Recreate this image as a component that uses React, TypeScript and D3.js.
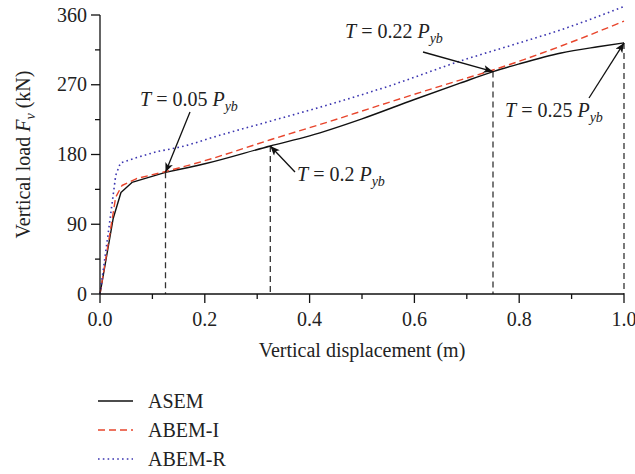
import React from "react";
import * as d3 from "d3";

const asem: [number, number][] = [
  [0, 0], [0.025, 97], [0.04, 131], [0.061, 144], [0.125, 157], [0.2, 168], [0.325, 191],
  [0.4, 204], [0.5, 226], [0.6, 251], [0.687, 272], [0.75, 287], [0.8, 297], [0.88, 311], [0.95, 319], [1.0, 324],
];
const abemI: [number, number][] = [
  [0, 0], [0.015, 62], [0.03, 125], [0.042, 140], [0.07, 149], [0.125, 158], [0.2, 172],
  [0.325, 199], [0.44, 223], [0.55, 247], [0.687, 276], [0.75, 289], [0.88, 320], [1.0, 352],
];
const abemR: [number, number][] = [
  [0, 0], [0.015, 75], [0.03, 153], [0.039, 169], [0.07, 176], [0.11, 184], [0.172, 193], [0.2, 199],
  [0.325, 223], [0.44, 245], [0.55, 268], [0.694, 302], [0.8, 324], [0.88, 341], [1.0, 371],
];
const markers: { x: number; y: number; label: string }[] = [
  { x: 0.125, y: 157, label: "0.05" },
  { x: 0.325, y: 191, label: "0.2" },
  { x: 0.75, y: 287, label: "0.22" },
  { x: 1.0, y: 324, label: "0.25" },
];
const xTicks = [0, 0.2, 0.4, 0.6, 0.8, 1.0];
const xMinor = [0.1, 0.3, 0.5, 0.7, 0.9];
const yTicks = [0, 90, 180, 270, 360];
const yMinor = [45, 135, 225, 315];
const seriesNames = ["ASEM", "ABEM-I", "ABEM-R"];
const kneeEnd = 0.11; // linear segments up to here, smooth afterwards

// label placement (text start, baseline) and arrow tail, per marker
const labelPos = [
  { tx: 140, ty: 106, ax: 190, ay: 112 },
  { tx: 297, ty: 181, ax: 295, ay: 172 },
  { tx: 345, ty: 38, ax: 423, ay: 52 },
  { tx: 505, ty: 117, ax: 589, ay: 98 },
];

export default function App() {
  const x = d3.scaleLinear().domain([0, 1]).range([100, 624]);
  const y = d3.scaleLinear().domain([0, 360]).range([294, 15]);
  const lin = d3.line<[number, number]>().x((d) => x(d[0])).y((d) => y(d[1]));
  const smooth = d3.line<[number, number]>().x((d) => x(d[0])).y((d) => y(d[1])).curve(d3.curveMonotoneX);
  const pathOf = (d: [number, number][]) => {
    const idx = d.findIndex((p) => p[0] >= kneeEnd);
    const a = lin(d.slice(0, idx + 1)) || "";
    const b = (smooth(d.slice(idx)) || "").replace(/^M/, "L");
    return a + b;
  };
  const font = "'Liberation Serif', 'Times New Roman', serif";
  const styles = [
    { stroke: "#111", dash: "none", w: 1.4 },
    { stroke: "#e8452c", dash: "7,4", w: 1.4 },
    { stroke: "#3b35b0", dash: "1.6,3.2", w: 1.6 },
  ];
  const data = [asem, abemI, abemR];
  const legY = 401;
  return (
    <svg width={635} height={474} style={{ position: "absolute", left: 0, top: 0 }} fontFamily={font}>
      <defs>
        <marker id="ah" viewBox="0 0 12 10" refX="12" refY="5" markerWidth="12" markerHeight="8" markerUnits="userSpaceOnUse" orient="auto">
          <path d="M0,0 L12,5 L0,10 L3,5 z" fill="#111" />
        </marker>
      </defs>
      <rect width={635} height={474} fill="#fff" />
      {markers.map((m, i) => (
        <line key={"v" + i} x1={x(m.x)} x2={x(m.x)} y1={y(m.y)} y2={y(0)} stroke="#333" strokeWidth={1.3} strokeDasharray="6,4" />
      ))}
      {data.map((d, i) => (
        <path key={"s" + i} d={pathOf(d)} fill="none" stroke={styles[i].stroke} strokeWidth={styles[i].w} strokeDasharray={styles[i].dash} strokeLinejoin="round" />
      ))}
      {/* axes */}
      <line x1={x(0)} x2={x(0)} y1={y(0)} y2={y(360)} stroke="#111" strokeWidth={1.3} />
      <line x1={x(0)} x2={x(1)} y1={y(0)} y2={y(0)} stroke="#111" strokeWidth={1.3} />
      {yTicks.map((t) => (
        <g key={"yt" + t}>
          <line x1={x(0) - 9} x2={x(0)} y1={y(t)} y2={y(t)} stroke="#111" strokeWidth={1.3} />
          <text x={x(0) - 13} y={y(t) + 6.5} fontSize={20} textAnchor="end" fill="#222">{t}</text>
        </g>
      ))}
      {yMinor.map((t) => (
        <line key={"ym" + t} x1={x(0) - 5} x2={x(0)} y1={y(t)} y2={y(t)} stroke="#111" strokeWidth={1.3} />
      ))}
      {xTicks.map((t) => (
        <g key={"xt" + t}>
          <line x1={x(t)} x2={x(t)} y1={y(0)} y2={y(0) + 9} stroke="#111" strokeWidth={1.3} />
          <text x={x(t)} y={y(0) + 32} fontSize={20} textAnchor="middle" fill="#222">{t.toFixed(1)}</text>
        </g>
      ))}
      {xMinor.map((t) => (
        <line key={"xm" + t} x1={x(t)} x2={x(t)} y1={y(0)} y2={y(0) + 5} stroke="#111" strokeWidth={1.3} />
      ))}
      <text x={362} y={357} fontSize={20} textAnchor="middle" fill="#222">Vertical displacement (m)</text>
      <text transform={`translate(30,${(y(0) + y(360)) / 2}) rotate(-90)`} fontSize={20} textAnchor="middle" fill="#222">
        Vertical load <tspan fontStyle="italic">F</tspan><tspan fontStyle="italic" fontSize={14} dy={5}>v</tspan><tspan dy={-5}> (kN)</tspan>
      </text>
      {markers.map((m, i) => {
        const p = labelPos[i];
        return (
          <g key={"a" + i}>
            <line x1={p.ax} y1={p.ay} x2={x(m.x)} y2={y(m.y)} stroke="#111" strokeWidth={1.3} markerEnd="url(#ah)" />
            <text x={p.tx} y={p.ty} fontSize={20} fill="#222">
              <tspan fontStyle="italic">T</tspan> = {m.label} <tspan fontStyle="italic">P</tspan>
              <tspan fontStyle="italic" fontSize={14} dy={5}>yb</tspan>
            </text>
          </g>
        );
      })}
      {seriesNames.map((n, i) => (
        <g key={"l" + i}>
          <line x1={98} x2={133} y1={legY + i * 29} y2={legY + i * 29} stroke={styles[i].stroke} strokeWidth={styles[i].w} strokeDasharray={styles[i].dash} />
          <text x={148} y={legY + 7 + i * 29} fontSize={20} fill="#222">{n}</text>
        </g>
      ))}
    </svg>
  );
}
